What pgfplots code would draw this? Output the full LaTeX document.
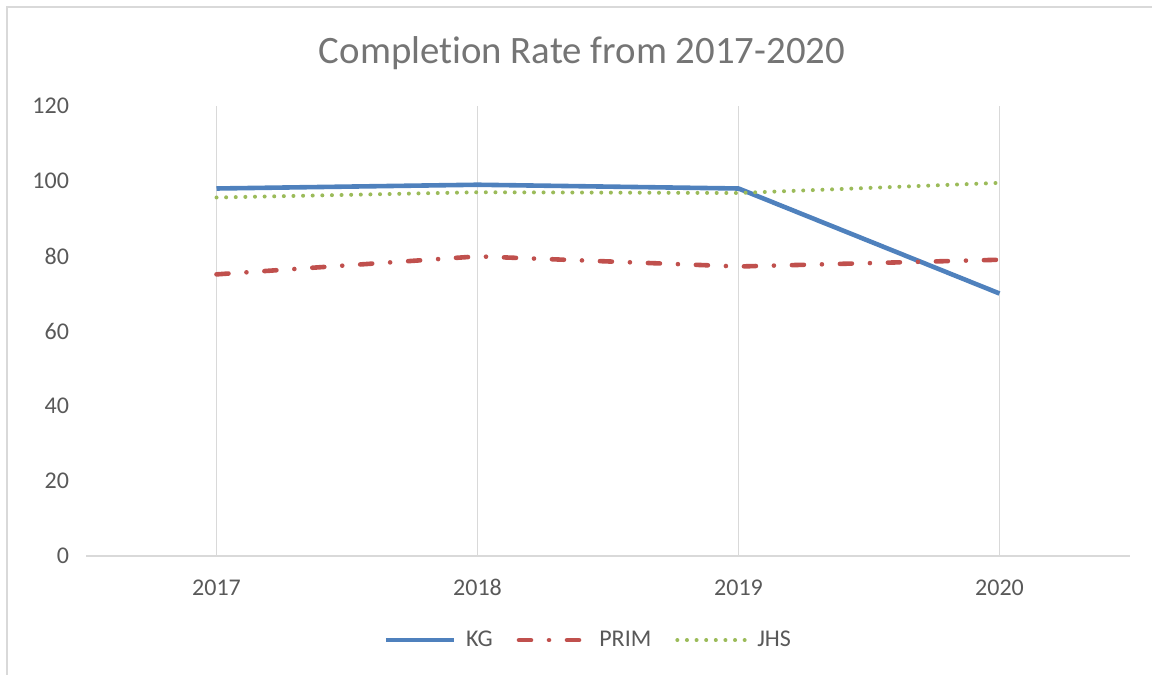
\documentclass[border=0pt]{standalone}
\usepackage{pgfplots}
\pgfplotsset{compat=1.18}
\usepackage{fontspec}
\setmainfont{Carlito}[Ligatures={NoCommon}]
\definecolor{kgc}{HTML}{4F81BD}
\definecolor{primc}{HTML}{C0504D}
\definecolor{jhsc}{HTML}{9BBB59}
\definecolor{txt}{HTML}{595959}
\definecolor{ttl}{HTML}{757575}
\definecolor{grd}{HTML}{D9D9D9}
\begin{document}
\begin{tikzpicture}
\useasboundingbox (0,0) rectangle (576pt,337.5pt);
\draw[grd, line width=0.75pt] (3.5pt,0pt) -- (3.5pt,334pt) -- (576pt,334pt);
\node[ttl, font=\fontsize{19.4}{23}\selectfont] at (291pt,311pt) {Completion Rate from 2017-2020};
\begin{axis}[
  at={(43pt,59.5pt)}, anchor=south west,
  scale only axis, width=522pt, height=225pt,
  xmin=-0.5, xmax=3.5, ymin=0, ymax=120,
  xtick={0,1,2,3}, xticklabels={2017,2018,2019,2020},
  ytick={0,20,40,60,80,100,120},
  axis line style={draw=none},
  xmajorgrids, grid style={grd, line width=0.75pt},
  major tick length=0pt,
  tick label style={txt, font=\fontsize{12}{14}\selectfont},
  /pgf/number format/assume math mode=true,
  yticklabel style={xshift=-5pt},
  xticklabel style={yshift=-8pt, text height=8pt, text depth=1pt},
  legend style={at={(0.482,-0.187)}, anchor=center, draw=none, legend columns=3,
    font=\fontsize{12}{14}\selectfont, text=txt,
    /tikz/every odd column/.append style={column sep=3pt},
    /tikz/every even column/.append style={column sep=10pt}},
  legend image code/.code={\draw[#1] (0pt,0pt) -- (34pt,0pt);},
  clip=false,
]
\draw[grd, line width=0.75pt] (axis cs:-0.5,0) -- (axis cs:3.5,0);
\addplot[kgc, line width=2.3pt, line join=round] coordinates {(0,98.0) (1,99.0) (2,98.0) (3,70.0)};
\addlegendentry{KG}
\addplot[primc, line width=2.3pt, line cap=round, dash pattern=on 6pt off 9pt on 0.01pt off 9pt] coordinates {(0,75.1) (1,79.9) (2,77.2) (3,79.0)};
\addlegendentry{PRIM}
\addplot[jhsc, line width=2pt, line cap=round, dash pattern=on 0.01pt off 4.8pt] coordinates {(0,95.6) (1,97.0) (2,96.8) (3,99.5)};
\addlegendentry{JHS}
\end{axis}
\end{tikzpicture}
\end{document}
